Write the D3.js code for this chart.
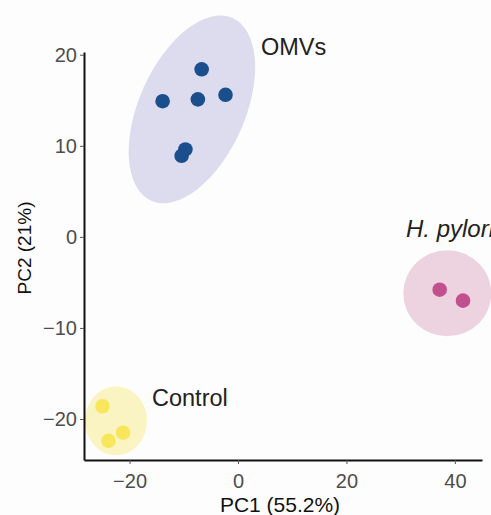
<!DOCTYPE html>
<html>
<head>
<meta charset="utf-8">
<script src="https://cdn.jsdelivr.net/npm/d3@7"></script>
<style>
  body { margin: 0; background: #fdfdfd; }
  svg { display: block; font-family: Arial, "Liberation Sans", sans-serif; }
</style>
</head>
<body>
<script>
// PCA scores
var groups = ['OMVs', 'H. pylori', 'Control'];
var omvPC1 = [-6.7, -13.9, -7.4, -2.3, -9.7, -10.4];
var omvPC2 = [18.4, 14.9, 15.1, 15.6, 9.6, 8.9];
var hpPC1 = [37.2, 41.5];
var hpPC2 = [-5.8, -7.0];
var ctrlPC1 = [-25.0, -21.2, -23.9];
var ctrlPC2 = [-18.6, -21.5, -22.4];
// ellipse centres (data units)
var ellipseCenters = [[-8.5, 14.0], [38.6, -6.2], [-22.5, -20.2]];
var xTicks = [-20, 0, 20, 40];
var yTicks = [-20, -10, 0, 10, 20];

var W = 491, H = 515;
var svg = d3.select('body').append('svg').attr('width', W).attr('height', H);

var x = d3.scaleLinear().domain([-28.4, 45.0]).range([84, 482]);
var y = d3.scaleLinear().domain([-24.5, 20.3]).range([460, 52]);

var colors = { 'OMVs': '#1b4e8d', 'H. pylori': '#c2508e', 'Control': '#f8e65c' };
var fills = { 'OMVs': '#dcdcee', 'H. pylori': '#ecd3df', 'Control': '#faf4c2' };
// ellipse shape in px: rx, ry, rotation
var shapes = { 'OMVs': [53, 100, 24], 'H. pylori': [44, 43, 0], 'Control': [31, 34.5, 0] };

var pts = [];
omvPC1.forEach(function(v, i) { pts.push({ g: 'OMVs', pc1: v, pc2: omvPC2[i] }); });
hpPC1.forEach(function(v, i) { pts.push({ g: 'H. pylori', pc1: v, pc2: hpPC2[i] }); });
ctrlPC1.forEach(function(v, i) { pts.push({ g: 'Control', pc1: v, pc2: ctrlPC2[i] }); });

// ellipses
svg.selectAll('ellipse.grp').data(groups).enter().append('ellipse')
  .attr('class', 'grp')
  .attr('transform', function(d, i) {
    return 'translate(' + x(ellipseCenters[i][0]) + ',' + y(ellipseCenters[i][1]) + ') rotate(' + shapes[d][2] + ')';
  })
  .attr('rx', function(d) { return shapes[d][0]; })
  .attr('ry', function(d) { return shapes[d][1]; })
  .style('fill', function(d) { return fills[d]; });

// axes
var xAxis = svg.append('g').attr('transform', 'translate(0,460)')
  .call(d3.axisBottom(x).tickValues(xTicks).tickSize(4).tickSizeOuter(0).tickFormat(d3.format('')));
var yAxis = svg.append('g').attr('transform', 'translate(84,0)')
  .call(d3.axisLeft(y).tickValues(yTicks).tickSize(4).tickSizeOuter(0).tickFormat(d3.format('')));

[xAxis, yAxis].forEach(function(a) {
  a.select('.domain').style('stroke', '#111').style('stroke-width', 2);
  a.selectAll('.tick line').style('stroke', '#555').style('stroke-width', 1);
  a.selectAll('.tick text').style('fill', '#4d4d4d').style('font-size', '20px')
    .style('font-family', 'Arial, "Liberation Sans", sans-serif');
});
xAxis.selectAll('.tick text').attr('dy', '1.05em');
yAxis.selectAll('.tick text').attr('x', -7);

// points
svg.selectAll('circle.pt').data(pts).enter().append('circle')
  .attr('class', 'pt')
  .attr('cx', function(d) { return x(d.pc1); })
  .attr('cy', function(d) { return y(d.pc2); })
  .attr('r', 7.3)
  .style('fill', function(d) { return colors[d.g]; });

// group labels
svg.append('text').attr('x', 261).attr('y', 55).text('OMVs')
  .style('font-size', '23.5px').style('fill', '#222');
svg.append('text').attr('x', 406).attr('y', 237).text('H. pylori')
  .style('font-size', '24px').style('font-style', 'italic').style('fill', '#222');
svg.append('text').attr('x', 152).attr('y', 406).text('Control')
  .style('font-size', '23.5px').style('fill', '#222');

// axis titles
svg.append('text').attr('x', 280).attr('y', 512).attr('text-anchor', 'middle')
  .text('PC1 (55.2%)').style('font-size', '21px').style('fill', '#111');
svg.append('text').attr('transform', 'translate(31,248) rotate(-90)').attr('text-anchor', 'middle')
  .text('PC2 (21%)').style('font-size', '19px').style('fill', '#111');
</script>
</body>
</html>
